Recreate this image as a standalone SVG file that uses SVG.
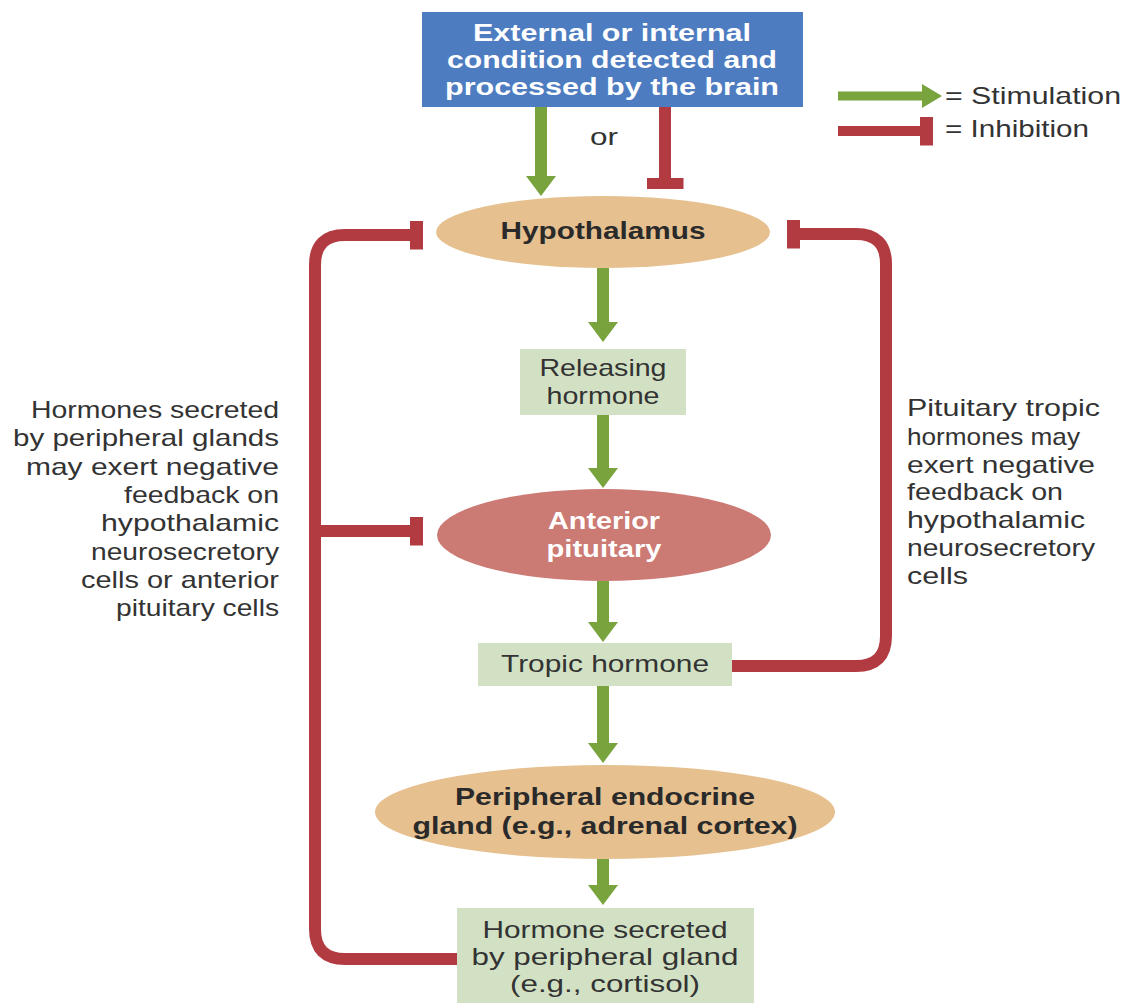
<svg xmlns="http://www.w3.org/2000/svg" width="1126" height="1003" viewBox="0 0 1126 1003">
<style>
text{font-family:"Liberation Sans",Arial,sans-serif;}
.t{font-size:24px;fill:#333;}
.b{font-size:24px;font-weight:bold;fill:#2a2a2a;}
.w{font-size:24px;font-weight:bold;fill:#fff;}
.c{text-anchor:middle;}
.e{text-anchor:end;}
.box{fill:#d2e1c3;}
.tan{fill:#e6c08f;}
.stim{stroke:#79a33d;stroke-width:12;fill:none;marker-end:url(#ah);}
.inh{stroke:#b23b41;stroke-width:12;fill:none;}
</style>
<defs>
<marker id="ah" markerUnits="userSpaceOnUse" viewBox="0 0 20 30" markerWidth="20" markerHeight="30" refX="0" refY="15" orient="auto"><path d="M0 0 L20 15 L0 30 Z" fill="#79a33d"/></marker>
<marker id="ahs" markerUnits="userSpaceOnUse" viewBox="0 0 20 24" markerWidth="20" markerHeight="24" refX="0" refY="12" orient="auto"><path d="M0 0 L20 12 L0 24 Z" fill="#79a33d"/></marker>
<marker id="tee" markerUnits="userSpaceOnUse" viewBox="0 0 13 29" markerWidth="13" markerHeight="29" refX="0" refY="14.5" orient="auto"><rect x="0" y="0" width="13" height="29" fill="#b23b41"/></marker>
<marker id="teew" markerUnits="userSpaceOnUse" viewBox="0 0 11 37" markerWidth="11" markerHeight="37" refX="0" refY="18.5" orient="auto"><rect x="0" y="0" width="11" height="37" fill="#b23b41"/></marker>
</defs>

<g id="connectors">
<line class="stim" x1="541" y1="107" x2="541" y2="176"/>
<line class="inh" x1="665" y1="107" x2="665" y2="178" marker-end="url(#teew)"/>
<line class="stim" x1="603" y1="268" x2="603" y2="322"/>
<line class="stim" x1="603" y1="415" x2="603" y2="468"/>
<line class="stim" x1="603" y1="581" x2="603" y2="622"/>
<line class="stim" x1="603" y1="686" x2="603" y2="743"/>
<line class="stim" x1="603" y1="859" x2="603" y2="885"/>
<path class="inh" d="M458 959 H345 Q315 959 315 929 V265 Q315 235 345 235 H410" marker-end="url(#tee)"/>
<path class="inh" d="M315 531 H410" marker-end="url(#tee)"/>
<path class="inh" d="M732 666 H856 Q886 666 886 636 V264 Q886 234 856 234 H800" marker-end="url(#tee)"/>
</g>

<g id="legend">
<line x1="838" y1="96" x2="922" y2="96" stroke="#79a33d" stroke-width="9" marker-end="url(#ahs)"/>
<text class="t" x="945" y="104" textLength="176" lengthAdjust="spacingAndGlyphs">= Stimulation</text>
<line x1="838" y1="131" x2="920" y2="131" stroke="#b23b41" stroke-width="10" marker-end="url(#tee)"/>
<text class="t" x="945" y="137" textLength="144" lengthAdjust="spacingAndGlyphs">= Inhibition</text>
</g>

<g id="stimulus">
<rect x="422" y="12" width="381" height="95" fill="#4d7cc1"/>
<text class="w c" x="612" y="41" textLength="278" lengthAdjust="spacingAndGlyphs">External or internal</text>
<text class="w c" x="612" y="68" textLength="330" lengthAdjust="spacingAndGlyphs">condition detected and</text>
<text class="w c" x="612" y="95" textLength="334" lengthAdjust="spacingAndGlyphs">processed by the brain</text>
</g>

<g id="or-label">
<text class="t c" x="604" y="145" textLength="28" lengthAdjust="spacingAndGlyphs">or</text>
</g>

<g id="hypothalamus">
<ellipse class="tan" cx="603" cy="232" rx="167" ry="36"/>
<text class="b c" x="603" y="239" font-size="22" textLength="205" lengthAdjust="spacingAndGlyphs">Hypothalamus</text>
</g>

<g id="releasing-hormone">
<rect class="box" x="520" y="349" width="166" height="66"/>
<text class="t c" x="603" y="376" textLength="127" lengthAdjust="spacingAndGlyphs">Releasing</text>
<text class="t c" x="603" y="404" textLength="113" lengthAdjust="spacingAndGlyphs">hormone</text>
</g>

<g id="anterior-pituitary">
<ellipse cx="604" cy="535" rx="167" ry="46" fill="#cc7a74"/>
<text class="w c" x="604" y="529" textLength="112" lengthAdjust="spacingAndGlyphs">Anterior</text>
<text class="w c" x="604" y="557" textLength="115" lengthAdjust="spacingAndGlyphs">pituitary</text>
</g>

<g id="tropic-hormone">
<rect class="box" x="478" y="643" width="254" height="43"/>
<text class="t c" x="605" y="672" textLength="208" lengthAdjust="spacingAndGlyphs">Tropic hormone</text>
</g>

<g id="peripheral-gland">
<ellipse class="tan" cx="605" cy="812" rx="230" ry="47"/>
<text class="b c" x="605" y="805" textLength="300" lengthAdjust="spacingAndGlyphs">Peripheral endocrine</text>
<text class="b c" x="605" y="834" textLength="385" lengthAdjust="spacingAndGlyphs">gland (e.g., adrenal cortex)</text>
</g>

<g id="peripheral-hormone">
<rect class="box" x="457" y="908" width="297" height="100"/>
<text class="t c" x="605" y="938" textLength="245" lengthAdjust="spacingAndGlyphs">Hormone secreted</text>
<text class="t c" x="605" y="965" textLength="267" lengthAdjust="spacingAndGlyphs">by peripheral gland</text>
<text class="t c" x="605" y="992" textLength="190" lengthAdjust="spacingAndGlyphs">(e.g., cortisol)</text>
</g>

<g id="left-note">
<text class="t e" x="279" y="418" textLength="248" lengthAdjust="spacingAndGlyphs">Hormones secreted</text>
<text class="t e" x="279" y="446" textLength="266" lengthAdjust="spacingAndGlyphs">by peripheral glands</text>
<text class="t e" x="279" y="475" textLength="253" lengthAdjust="spacingAndGlyphs">may exert negative</text>
<text class="t e" x="279" y="503" textLength="155" lengthAdjust="spacingAndGlyphs">feedback on</text>
<text class="t e" x="279" y="531" textLength="178" lengthAdjust="spacingAndGlyphs">hypothalamic</text>
<text class="t e" x="279" y="560" textLength="188" lengthAdjust="spacingAndGlyphs">neurosecretory</text>
<text class="t e" x="279" y="588" textLength="198" lengthAdjust="spacingAndGlyphs">cells or anterior</text>
<text class="t e" x="279" y="616" textLength="163" lengthAdjust="spacingAndGlyphs">pituitary cells</text>
</g>

<g id="right-note">
<text class="t" x="907" y="416" textLength="193" lengthAdjust="spacingAndGlyphs">Pituitary tropic</text>
<text class="t" x="907" y="445" textLength="173" lengthAdjust="spacingAndGlyphs">hormones may</text>
<text class="t" x="907" y="473" textLength="188" lengthAdjust="spacingAndGlyphs">exert negative</text>
<text class="t" x="907" y="500" textLength="156" lengthAdjust="spacingAndGlyphs">feedback on</text>
<text class="t" x="907" y="528" textLength="178" lengthAdjust="spacingAndGlyphs">hypothalamic</text>
<text class="t" x="907" y="556" textLength="188" lengthAdjust="spacingAndGlyphs">neurosecretory</text>
<text class="t" x="907" y="584" textLength="61" lengthAdjust="spacingAndGlyphs">cells</text>
</g>
</svg>
